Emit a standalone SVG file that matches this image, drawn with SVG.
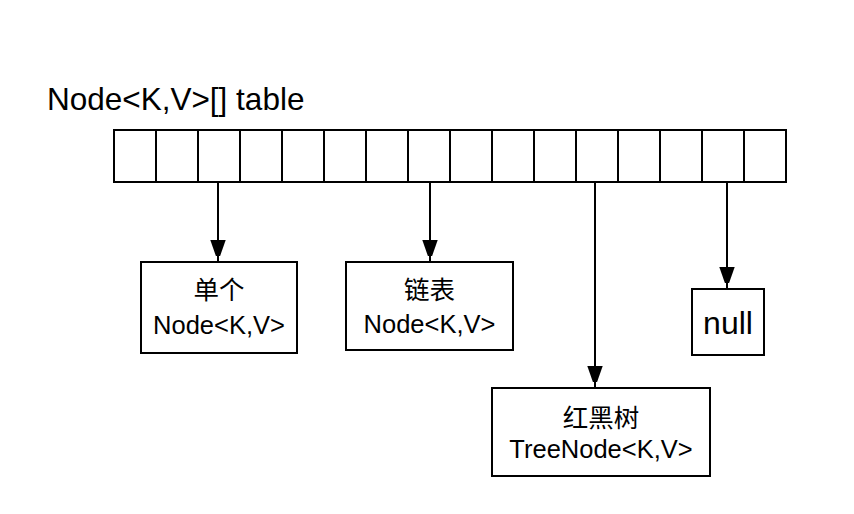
<svg xmlns="http://www.w3.org/2000/svg" width="854" height="514" viewBox="0 0 854 514">
<defs>
<style>
.box{fill:#fff;stroke:#000;stroke-width:2}
.cell{fill:none;stroke:#000;stroke-width:2}
.edge{stroke:#000;stroke-width:2;fill:none}
text{font-family:"Liberation Sans","Noto Sans CJK SC",Arial,sans-serif;fill:#000;text-anchor:middle}
.t{font-size:25.5px}
</style>
<marker id="arr" markerUnits="userSpaceOnUse" markerWidth="16" markerHeight="22" viewBox="0 0 14 20" refX="20" refY="7" orient="auto">
<path d="M0,0 L20,7 L0,14 Z" fill="#000"/>
</marker>
</defs>
<rect width="854" height="514" fill="#fff"/>
<text x="47" y="110" style="font-size:31.5px;text-anchor:start">Node&lt;K,V&gt;[] table</text>
<g id="table">
<rect class="cell" x="114" y="130" width="672" height="52"/>
<path class="cell" d="M156,130V182M198,130V182M240,130V182M282,130V182M324,130V182M366,130V182M408,130V182M450,130V182M492,130V182M534,130V182M576,130V182M618,130V182M660,130V182M702,130V182M744,130V182"/>
</g>
<g id="connectors">
<line class="edge" x1="218" y1="182" x2="218" y2="262" marker-end="url(#arr)"/>
<line class="edge" x1="430" y1="182" x2="430" y2="262" marker-end="url(#arr)"/>
<line class="edge" x1="595" y1="182" x2="595" y2="388" marker-end="url(#arr)"/>
<line class="edge" x1="727" y1="182" x2="727" y2="289" marker-end="url(#arr)"/>
</g>
<g id="single">
<rect class="box" x="141" y="262" width="156" height="91"/>
<text class="t" x="219" y="299">单个</text>
<text class="t" x="219" y="334">Node&lt;K,V&gt;</text>
</g>
<g id="list">
<rect class="box" x="346" y="262" width="167" height="88"/>
<text class="t" x="429.5" y="299">链表</text>
<text class="t" x="429.5" y="333">Node&lt;K,V&gt;</text>
</g>
<g id="tree">
<rect class="box" x="492" y="388" width="218" height="88"/>
<text class="t" x="601" y="427">红黑树</text>
<text class="t" x="601" y="458">TreeNode&lt;K,V&gt;</text>
</g>
<g id="null">
<rect class="box" x="692" y="289" width="72" height="66"/>
<text x="728" y="334" style="font-size:32px">null</text>
</g>
</svg>
